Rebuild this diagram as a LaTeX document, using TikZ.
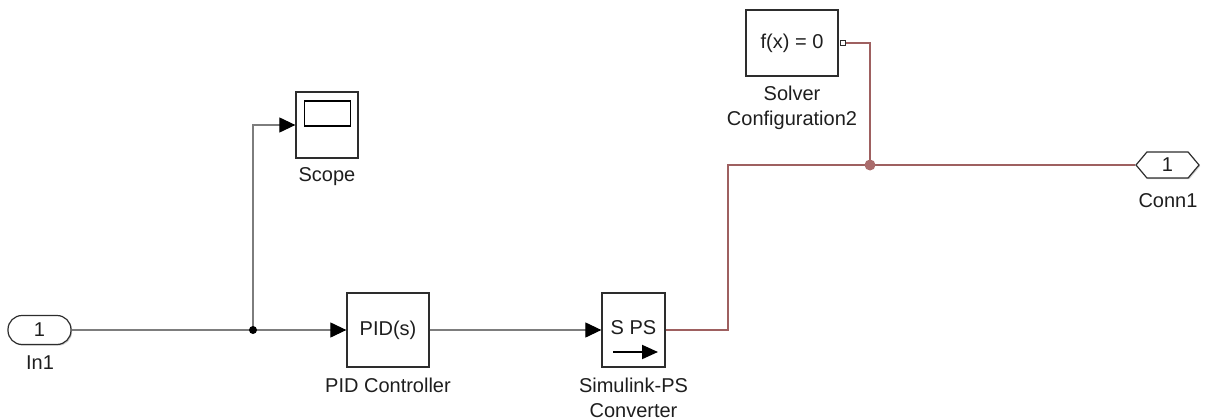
\documentclass[tikz,border=0pt]{standalone}
\usepackage{fontspec}
\setmainfont{Liberation Sans}
\usetikzlibrary{arrows.meta,shapes.symbols,shadows}

\definecolor{physline}{RGB}{158,96,96}
\definecolor{physdot}{RGB}{170,108,108}
\definecolor{sigline}{RGB}{125,125,125}
\definecolor{edge}{RGB}{45,45,45}
\definecolor{inktext}{RGB}{30,30,30}

\tikzset{
  block/.style={draw=edge, line width=1.3pt, fill=white, inner sep=0pt,
    drop shadow={shadow xshift=1.3pt, shadow yshift=-1.3pt, fill=black!35, opacity=0.7},
    font=\fontsize{20}{24}\selectfont, text=inktext},
  blocklabel/.style={font=\fontsize{20}{25}\selectfont, text=inktext, align=center, inner sep=0pt},
  port/.style={draw=edge, line width=1.2pt, fill=white, inner sep=0pt,
    drop shadow={shadow xshift=1.2pt, shadow yshift=-1.2pt, fill=black!30, opacity=0.6},
    font=\fontsize{20}{24}\selectfont, text=inktext},
  signal line/.style={draw=sigline, line width=1.2pt},
  signal arrow/.style={signal line, -{Triangle[length=16pt,width=15pt,color=black]}},
  phys line/.style={draw=physline, line width=1.6pt},
}

\begin{document}
\begin{tikzpicture}[x=1pt, y=-1pt]
\useasboundingbox (0,0) rectangle (1210,420);

% ---- blocks ----
\node[port, rounded corners=14pt, minimum width=63pt, minimum height=29pt] (in1) at (39.5,330) {1};
\node[blocklabel] (in1lbl) at (40,363) {In1};

\node[block, minimum width=62pt, minimum height=66pt] (scope) at (327,125) {};
\node[draw=black, line width=1.4pt, minimum width=46pt, minimum height=25pt, inner sep=0pt] (screen) at (327.5,113.5) {};
\node[blocklabel] (scopelbl) at (327,177) {Scope};

\node[block, minimum width=82pt, minimum height=74pt] (pid) at (388,330) {PID(s)};
\node[blocklabel] (pidlbl) at (388,385) {PID Controller};

\node[block, minimum width=63pt, minimum height=74pt] (sps) at (633.5,330) {};
\node[font=\fontsize{20}{24}\selectfont, text=inktext, inner sep=0pt] (spstxt) at (633.5,328) {S PS};
\coordinate (spsa) at (613,352);
\coordinate (spsb) at (658,352);
\draw[line width=2pt, -{Triangle[length=16pt,width=14pt]}] (spsa) -- (spsb);
\node[blocklabel] (spslbl) at (633.5,398) {Simulink-PS\\Converter};

\node[block, minimum width=92pt, minimum height=66pt] (solver) at (792,43) {f(x) = 0};
\node[blocklabel] (solverlbl) at (792,108) {Solver\\Configuration2};
\node[draw=edge, fill=white, line width=1pt, minimum size=5pt, inner sep=0pt] (sport) at (843,43) {};

\node[port, signal, signal to=east and west, signal pointer angle=100,
      minimum width=63pt, minimum height=26pt, inner xsep=2pt] (conn) at (1167.5,165) {1};
\node[blocklabel] (connlbl) at (1168,201) {Conn1};

% ---- junctions ----
\coordinate (j1) at (253,330);
\coordinate (j2) at (870,165);
\coordinate (rise) at (728,165);

% ---- signal lines ----
\draw[signal arrow] (in1.east) -- (pid.west);
\draw[signal arrow] (j1) |- (scope.west);
\draw[signal arrow] (pid.east) -- (sps.west);
\fill[black] (j1) circle (4pt);

% ---- physical connections ----
\draw[phys line] (sps.east) -| (rise) -- (conn.west);
\draw[phys line] (sport.east) -| (j2);
\fill[physdot] (j2) circle (5.5pt);
\end{tikzpicture}
\end{document}
